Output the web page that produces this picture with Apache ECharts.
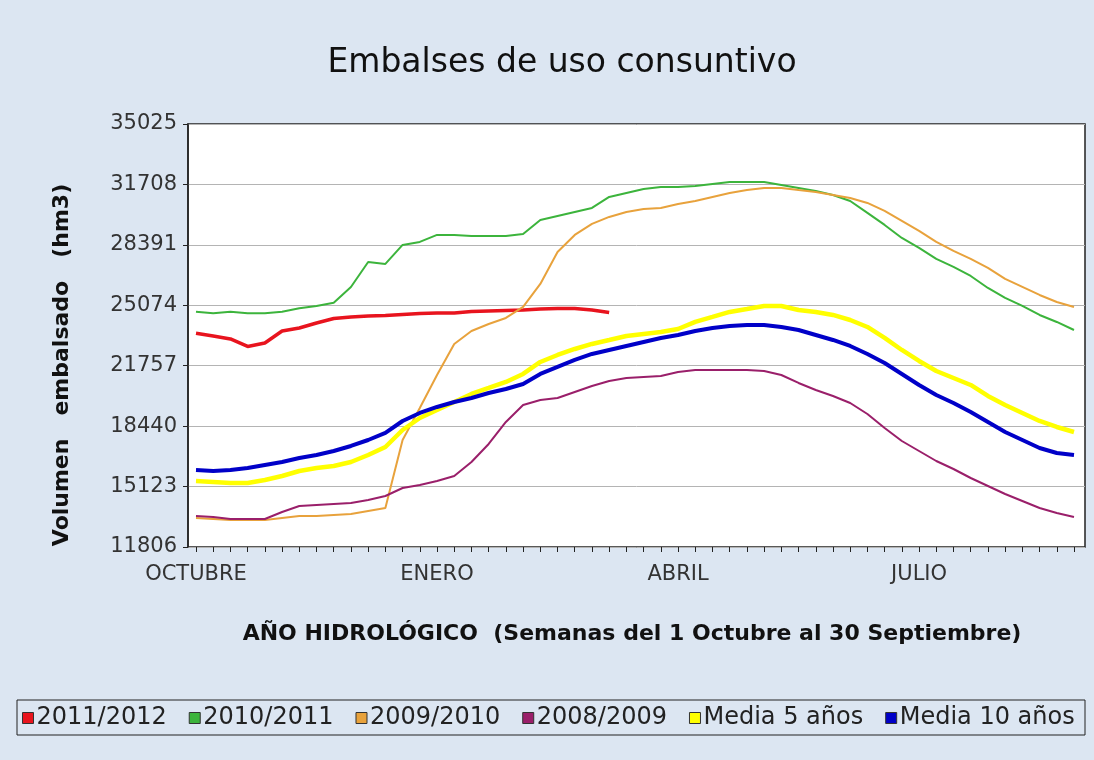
<!DOCTYPE html>
<html>
<head>
<meta charset="utf-8">
<script src="https://cdn.jsdelivr.net/npm/echarts/dist/echarts.min.js"></script>
<style>
html,body{margin:0;padding:0;background:#dce6f2;}
#chart{width:1094px;height:760px;}
</style>
</head>
<body>
<div id="chart"></div>
<script>
// ---- data ----
const weeks = ['1','2','3','4','5','6','7','8','9','10','11','12','13','14','15','16','17','18','19','20','21','22','23','24','25','26','27','28','29','30','31','32','33','34','35','36','37','38','39','40','41','42','43','44','45','46','47','48','49','50','51','52'];
const monthLabels = {0:'OCTUBRE', 14:'ENERO', 28:'ABRIL', 42:'JULIO'};
const seriesNames = ['2011/2012','2010/2011','2009/2010','2008/2009','Media 5 años','Media 10 años'];
const yTicks = [11806, 15123, 18440, 21757, 25074, 28391, 31708, 35025];

const s2011 = [23538,23390,23225,22813,23006,23664,23829,24104,24351,24433,24488,24515,24570,24625,24653,24653,24735,24762,24790,24817,24872,24899,24899,24817,24680];
const s2010 = [24724,24636,24724,24636,24636,24724,24911,25037,25218,26080,27453,27343,28386,28551,28935,28935,28880,28880,28880,28990,29758,29978,30198,30417,31021,31241,31460,31570,31570,31625,31735,31845,31845,31845,31680,31515,31350,31131,30801,30143,29484,28770,28221,27617,27178,26684,26025,25476,25037,24543,24159,23719];
const s2009 = [13398,13343,13288,13288,13288,13398,13508,13508,13563,13618,13782,13947,17680,19437,21249,22951,23664,24049,24378,24982,26245,28002,28935,29539,29923,30198,30362,30417,30637,30801,31021,31241,31405,31515,31515,31405,31296,31131,30966,30692,30252,29703,29154,28551,28056,27617,27123,26519,26080,25641,25257,24982];
const s2008 = [13508,13453,13343,13343,13343,13728,14057,14112,14167,14222,14386,14606,15045,15210,15429,15704,16473,17461,18669,19602,19876,19986,20316,20645,20919,21084,21139,21194,21414,21523,21523,21523,21523,21468,21249,20810,20425,20096,19712,19108,18339,17625,17076,16527,16088,15594,15155,14716,14331,13947,13673,13453];
const media5 = [15429,15375,15320,15320,15484,15704,15978,16143,16253,16473,16857,17296,18229,18888,19327,19767,20206,20535,20865,21304,21963,22347,22676,22951,23170,23390,23500,23610,23774,24159,24433,24708,24872,25037,25037,24817,24708,24543,24268,23884,23280,22621,22017,21468,21084,20700,20096,19602,19163,18723,18394,18120];
const media10 = [16033,15978,16033,16143,16308,16473,16692,16857,17076,17351,17680,18065,18723,19163,19492,19767,19986,20261,20480,20755,21304,21688,22072,22402,22621,22841,23061,23280,23445,23664,23829,23939,23994,23994,23884,23719,23445,23170,22841,22402,21908,21304,20700,20151,19712,19218,18669,18120,17680,17241,16967,16857];

// ---- styles ----
const colors = ['#e8141e','#3cb43c','#e8a23c','#9a1f6a','#ffff00','#0000c8'];
const widths = [3.5, 2, 2, 2, 4.5, 4];
const allData = [s2011, s2010, s2009, s2008, media5, media10];

const yMin = yTicks[0], yMax = yTicks[yTicks.length-1], yStep = yTicks[1]-yTicks[0];
const FONT = 'DejaVu Sans';

const chart = echarts.init(document.getElementById('chart'), null, {renderer:'canvas'});
chart.setOption({
  backgroundColor: '#dce6f2',
  animation: false,
  textStyle: {fontFamily: FONT},
  grid: [
    {left:188, top:124, width:897, height:423, show:true, backgroundColor:'#ffffff', borderColor:'#222', borderWidth:1.5},
    {left:196, top:124, width:878, height:423}
  ],
  xAxis: [
    {gridIndex:0, type:'value', min:0, max:1, show:false},
    {gridIndex:1, type:'category', data:weeks, boundaryGap:false,
      axisLine:{show:false},
      axisTick:{show:true, interval:0, length:5, lineStyle:{color:'#222', width:1}},
      axisLabel:{interval:0, margin:17, fontSize:21, color:'#333', fontFamily:FONT,
        formatter:(v, i) => monthLabels[i] || ''},
      splitLine:{show:false}}
  ],
  yAxis: [
    {gridIndex:0, type:'value', min:yMin, max:yMax, interval:yStep,
      axisLine:{show:true, lineStyle:{color:'#222', width:1.5}},
      axisTick:{show:true, length:5, lineStyle:{color:'#222'}},
      axisLabel:{fontSize:21, color:'#333', margin:11, fontFamily:FONT, formatter:(v) => String(v)},
      splitLine:{show:true, lineStyle:{color:'#b4b4b4', width:1}}},
    {gridIndex:1, type:'value', min:yMin, max:yMax, interval:yStep, show:false, splitLine:{show:false}}
  ],
  legend: {
    left: 22, top: 706, padding: 0, itemGap: 22,
    icon: 'rect', itemWidth: 11, itemHeight: 11,
    itemStyle: {borderColor:'#333', borderWidth:1},
    textStyle: {fontSize:24, color:'#222', fontFamily:FONT, padding:[0,0,0,-2]},
    data: seriesNames
  },
  series: seriesNames.map((name, k) => ({
    name: name, type:'line', xAxisIndex:1, yAxisIndex:1,
    data: allData[k], symbol:'none', smooth:false,
    lineStyle:{color:colors[k], width:widths[k]},
    itemStyle:{color:colors[k]}
  })),
  graphic: [
    {type:'text', x:562, y:63, z:10,
      style:{text:'Embalses de uso consuntivo', font:'normal 33px "DejaVu Sans"', fill:'#111', textAlign:'center', textVerticalAlign:'middle'}},
    {type:'text', x:62, y:365, rotation:Math.PI/2, z:10,
      style:{text:'Volumen   embalsado   (hm3)', font:'bold 22px "DejaVu Sans"', fill:'#111', textAlign:'center', textVerticalAlign:'middle'}},
    {type:'text', x:632, y:634, z:10,
      style:{text:'AÑO HIDROLÓGICO  (Semanas del 1 Octubre al 30 Septiembre)', font:'bold 22px "DejaVu Sans"', fill:'#111', textAlign:'center', textVerticalAlign:'middle'}},
    {type:'rect', z:0, shape:{x:17, y:700, width:1068, height:35}, style:{fill:'none', stroke:'#222', lineWidth:1}}
  ]
});
</script>
</body>
</html>
